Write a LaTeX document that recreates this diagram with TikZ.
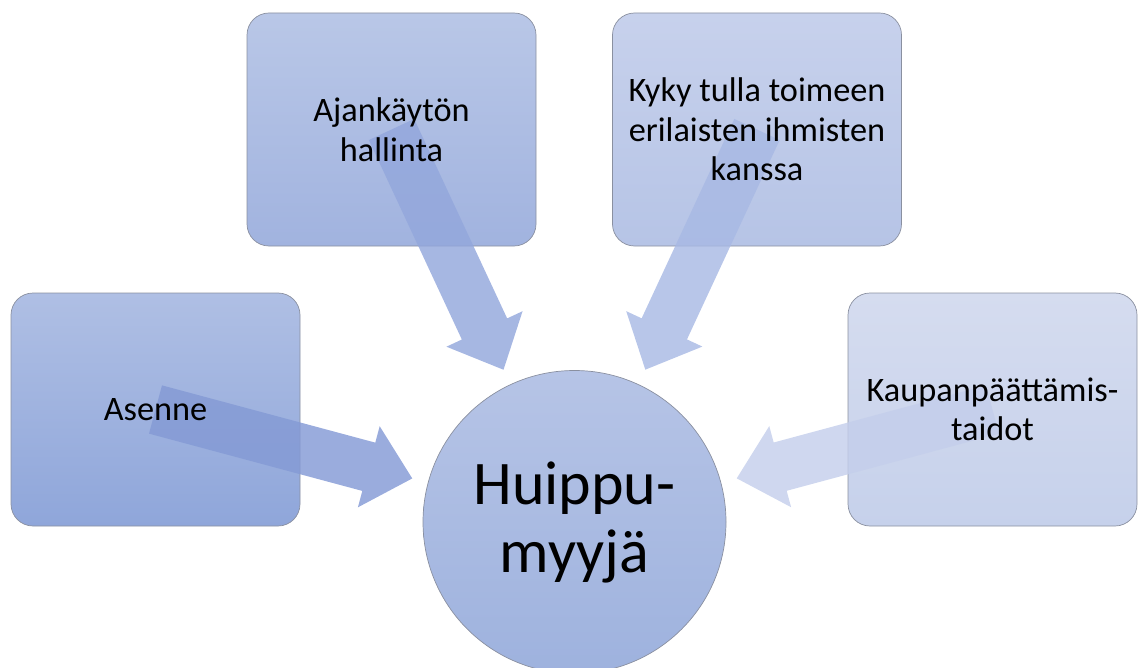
\documentclass[tikz,border=0pt]{standalone}
\usepackage{fontspec}
\setmainfont{Carlito}
\usetikzlibrary{calc}
\definecolor{bordergray}{HTML}{8A90A0}
\definecolor{arrA}{RGB}{132,154,213}
\definecolor{arrB}{RGB}{147,167,220}
\definecolor{arrC}{RGB}{168,185,228}
\definecolor{arrD}{RGB}{196,206,235}
\tikzset{
  box/.style={draw=bordergray, line width=0.7pt, rounded corners=22pt,
    minimum width=289pt, minimum height=233pt, inner sep=0pt},
  lbl/.style={align=center, font=\fontsize{34.3}{39.5}\selectfont, text=black, inner sep=0pt},
  hubstyle/.style={circle, draw=bordergray, line width=0.7pt, minimum size=303pt, inner sep=0pt,
    top color={rgb,255:red,182;green,196;blue,230}, bottom color={rgb,255:red,158;green,178;blue,222},
    align=center, font=\fontsize{62}{68}\selectfont},
  blockarr/.style={fill=#1, fill opacity=0.82},
}
\newcommand{\blockarrow}[2]{%
  \path ($(hub.center)!168pt!(#2.center)$) coordinate (#2-tip)
        ($(#2-tip)!45pt!(#2.center)$) coordinate (#2-hb);
  \fill[#1] ($(#2.center)!25pt!90:(#2-tip)$) -- ($(#2-hb)!25pt!90:(#2-tip)$)
    -- ($(#2-hb)!42pt!90:(#2-tip)$) -- (#2-tip) -- ($(#2-hb)!42pt!-90:(#2-tip)$)
    -- ($(#2-hb)!25pt!-90:(#2-tip)$) -- ($(#2.center)!25pt!-90:(#2-tip)$) -- cycle;
}
\begin{document}
\begin{tikzpicture}[x=1pt,y=-1pt]
\useasboundingbox (0,0) rectangle (1139,668);
\node[box, top color={rgb,255:red,175;green,191;blue,228}, bottom color={rgb,255:red,143;green,166;blue,218}] (asenne) at (155.5,409.5) {};
\node[box, top color={rgb,255:red,185;green,199;blue,231}, bottom color={rgb,255:red,161;green,179;blue,223}] (ajan) at (391.5,129.5) {};
\node[box, top color={rgb,255:red,199;green,209;blue,236}, bottom color={rgb,255:red,182;green,196;blue,230}] (kyky) at (757,129.5) {};
\node[box, top color={rgb,255:red,213;green,220;blue,239}, bottom color={rgb,255:red,198;green,209;blue,235}] (kaupan) at (992.5,409.5) {};
\node[hubstyle] (hub) at (574.5,522) {Huippu-\\myyjä};
\blockarrow{blockarr=arrA}{asenne}
\blockarrow{blockarr=arrB}{ajan}
\blockarrow{blockarr=arrC}{kyky}
\blockarrow{blockarr=arrD}{kaupan}
\node[lbl] (asenneT) at (asenne) {Asenne};
\node[lbl] (ajanT) at (ajan) {Ajankäytön\\hallinta};
\node[lbl] (kykyT) at (kyky) {Kyky tulla toimeen\\erilaisten ihmisten\\kanssa};
\node[lbl] (kaupanT) at (kaupan) {Kaupanpäättämis-\\taidot};
\end{tikzpicture}
\end{document}
